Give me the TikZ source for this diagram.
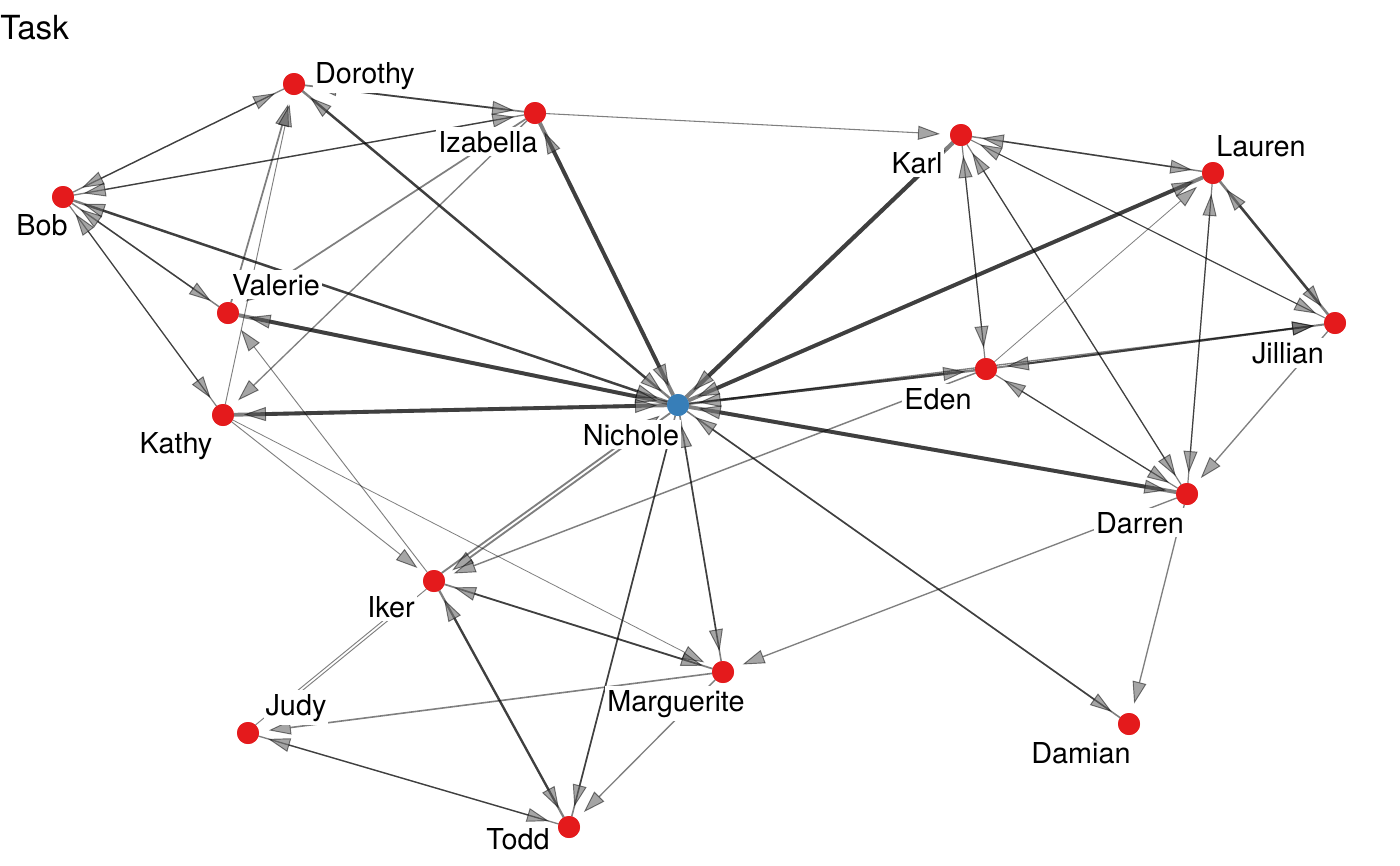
\documentclass[tikz,border=0pt]{standalone}
\usepackage{fontspec}
\setmainfont{TeX Gyre Heros}
\usetikzlibrary{arrows.meta}
\definecolor{nred}{HTML}{E41A1C}
\definecolor{nblue}{HTML}{377EB8}
\tikzset{
  vtx/.style={circle, fill=nred, draw=none, inner sep=0pt, minimum size=16.5pt, outer sep=0pt},
  lbl/.style={fill=white, inner xsep=1.5pt, inner ysep=3pt, anchor=base, font=\fontsize{21.6}{26}\selectfont},
  edge/.style={draw=black, draw opacity=0.5, fill opacity=0.5, shorten >=7.5pt,
    -{Triangle[length=16.5pt,width=10.5pt,line width=0.7pt,fill=black!70]}},
}
\newcommand{\E}[3]{\draw[edge, line width=#3pt] (#1) -- (#2);}
\begin{document}
\begin{tikzpicture}[x=0.75pt, y=-0.75pt]
\useasboundingbox (0,0) rectangle (1400,865);
% nodes
\node[vtx] (Do) at (294,84) {};
\node[vtx] (Iz) at (535,113) {};
\node[vtx] (Kr) at (961,135) {};
\node[vtx] (La) at (1213,173) {};
\node[vtx] (Bo) at (63,197) {};
\node[vtx] (Va) at (228,313) {};
\node[vtx] (Ji) at (1335,323) {};
\node[vtx] (Ed) at (986,369) {};
\node[vtx, fill=nblue] (Ni) at (678,405) {};
\node[vtx] (Ka) at (223,415) {};
\node[vtx] (Da) at (1187,494) {};
\node[vtx] (Ik) at (434,581) {};
\node[vtx] (Ma) at (723,672) {};
\node[vtx] (Ju) at (248,733) {};
\node[vtx] (Dm) at (1129,724) {};
\node[vtx] (To) at (569,827) {};
% edges
\E{Ni}{Do}{1.8} \E{Do}{Ni}{1.8}
\E{Ni}{Iz}{2.9} \E{Iz}{Ni}{2.9}
\E{Ni}{Bo}{1.8} \E{Bo}{Ni}{1.8}
\E{Ni}{Va}{2.9} \E{Va}{Ni}{2.9}
\E{Ni}{Ka}{2.9} \E{Ka}{Ni}{2.9}
\E{Ni}{Kr}{3.1} \E{Kr}{Ni}{3.1}
\E{Ni}{La}{2.9} \E{La}{Ni}{2.9}
\E{Ni}{Ed}{1.9} \E{Ed}{Ni}{1.9}
\E{Ni}{Ji}{1.0}
\E{Ed}{Ji}{1.5} \E{Ji}{Ed}{1.5}
\E{Ni}{Da}{2.9} \E{Da}{Ni}{2.9}
\E{Ni}{Dm}{1.2} \E{Dm}{Ni}{1.2}
\E{Ni}{Ma}{1.2} \E{Ma}{Ni}{1.2}
\E{Ni}{To}{1.2} \E{To}{Ni}{1.2}
\draw[edge, line width=1.4pt, transform canvas={shift={(0.88pt,-1.22pt)}}] (Ni) -- (Ik);
\draw[edge, line width=1.4pt, transform canvas={shift={(-0.88pt,1.22pt)}}] (Ik) -- (Ni);
\E{Bo}{Do}{1.0} \E{Do}{Bo}{1.0}
\E{Bo}{Iz}{1.0} \E{Iz}{Bo}{1.0}
\E{Do}{Iz}{1.3} \E{Iz}{Do}{1.3}
\E{Iz}{Kr}{0.8}
\E{Va}{Do}{1.3}
\E{Ka}{Do}{0.7}
\E{Iz}{Va}{1.3}
\E{Iz}{Ka}{1.0}
\E{Bo}{Va}{1.1} \E{Va}{Bo}{1.1}
\E{Bo}{Ka}{0.9} \E{Ka}{Bo}{0.9}
\E{Ik}{Va}{0.7}
\E{Ka}{Ik}{0.7}
\E{Ka}{Ma}{0.6}
\E{Ed}{Ik}{1.1}
\E{Ik}{Ma}{1.3} \E{Ma}{Ik}{1.3}
\E{Ik}{To}{1.7} \E{To}{Ik}{1.7}
\E{Ma}{To}{1.0}
\E{Ma}{Ju}{1.2}
\E{Ju}{To}{1.0} \E{To}{Ju}{1.0}
\draw[edge, line width=0.7pt, transform canvas={shift={(0.71pt,-0.87pt)}}] (Ik) -- (Ju);
\draw[edge, line width=0.7pt, transform canvas={shift={(-0.71pt,0.87pt)}}] (Ju) -- (Ik);
\E{Da}{Ma}{1.0}
\E{Da}{Dm}{1.0}
\E{Ed}{Da}{0.9} \E{Da}{Ed}{0.9}
\E{Kr}{Da}{0.9} \E{Da}{Kr}{0.9}
\E{Kr}{Ed}{0.9} \E{Ed}{Kr}{0.9}
\E{Kr}{La}{1.1} \E{La}{Kr}{1.1}
\E{Kr}{Ji}{0.8} \E{Ji}{Kr}{0.8}
\E{La}{Ji}{1.9} \E{Ji}{La}{1.9}
\E{Ed}{La}{0.6}
\E{Da}{La}{0.9} \E{La}{Da}{0.9}
\E{Ji}{Da}{1.0}
% redraw nodes on top
\foreach \n in {Do,Iz,Kr,La,Bo,Va,Ji,Ed,Ka,Da,Ik,Ma,Ju,Dm,To}{\node[vtx] at (\n) {};}
\node[vtx, fill=nblue] at (Ni) {};
% labels
\node[lbl] (lDo) at (365,83) {Dorothy};
\node[lbl] (lIz) at (488,152) {Izabella};
\node[lbl] (lKr) at (917,173) {Karl};
\node[lbl] (lLa) at (1261,156) {Lauren};
\node[lbl] (lBo) at (42,235) {Bob};
\node[lbl] (lVa) at (276,295) {Valerie};
\node[lbl] (lJi) at (1288,363) {Jillian};
\node[lbl] (lEd) at (938,409) {Eden};
\node[lbl] (lNi) at (631,445) {Nichole};
\node[lbl] (lKa) at (176,453) {Kathy};
\node[lbl] (lDa) at (1140,533) {Darren};
\node[lbl] (lIk) at (391,617) {Iker};
\node[lbl] (lMa) at (676,711) {Marguerite};
\node[lbl] (lJu) at (296,715) {Judy};
\node[lbl] (lDm) at (1081,763) {Damian};
\node[lbl] (lTo) at (518,849) {Todd};
\node[anchor=base west, inner sep=0pt, font=\fontsize{24.9}{30}\selectfont] (title) at (0,39) {Task};
\end{tikzpicture}
\end{document}
